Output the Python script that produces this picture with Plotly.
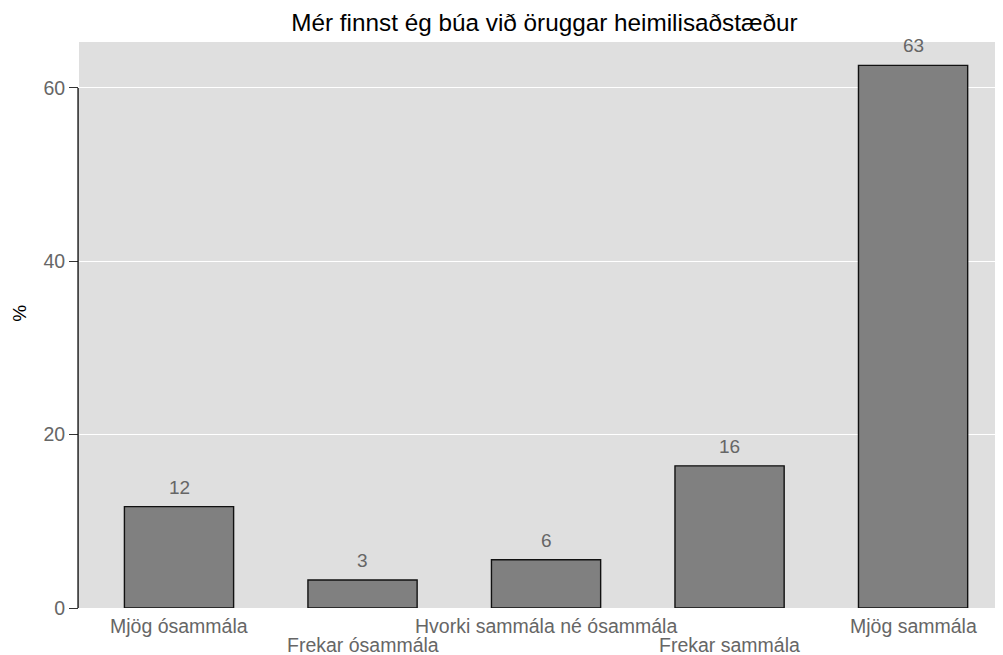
import plotly.graph_objects as go

categories = ["Mjög ósammála", "Frekar ósammála", "Hvorki sammála né ósammála",
              "Frekar sammála", "Mjög sammála"]
values = [11.7, 3.23, 5.57, 16.4, 62.6]
labels = [str(round(v)) for v in values]
title = "Mér finnst ég búa við öruggar heimilisaðstæður"
y_ticks = [0, 20, 40, 60]

FONT = "Liberation Sans, Arial, sans-serif"
TICKCOL = "#666666"

W, H = 995, 647
L, R, T, B = 71, 0, 34, 47

fig = go.Figure()
fig.add_trace(go.Bar(
    x=categories, y=values, width=0.595,
    marker=dict(color="#808080", line=dict(color="#111111", width=1.4)),
    hoverinfo="skip",
))

annotations = []
for c, v, t in zip(categories, values, labels):
    annotations.append(dict(x=c, y=v, xref="x", yref="y", text=t, showarrow=False,
                            yanchor="bottom", yshift=7,
                            font=dict(family=FONT, size=19, color=TICKCOL)))
for i, c in enumerate(categories):
    annotations.append(dict(x=c, y=0, xref="x", yref="paper", text=c, showarrow=False,
                            yanchor="top", yshift=-5 if i % 2 == 0 else -24,
                            font=dict(family=FONT, size=19.5, color=TICKCOL)))
annotations.append(dict(x=(12 - L) / (W - L - R), y=0.52, xref="paper", yref="paper", text="%",
                        showarrow=False, textangle=-90, xanchor="center", yanchor="middle",
                        font=dict(family=FONT, size=19, color="#000000")))

fig.update_layout(
    width=W, height=H,
    margin=dict(l=L, r=R, t=T, b=B),
    paper_bgcolor="white", plot_bgcolor="#DFDFDF",
    showlegend=False,
    title=dict(text=title, x=(L + W + 7) / 2 / W, xanchor="center", y=1 - 14 / H, yanchor="middle",
               font=dict(family=FONT, size=24.3, color="#000000")),
    annotations=annotations,
    xaxis=dict(type="category", range=[-0.545, 4.49], showticklabels=False, ticks="",
               showgrid=False, zeroline=False, showline=False),
    yaxis=dict(range=[0, 65.3], tickvals=y_ticks, ticks="outside", ticklen=9,
               tickcolor="#333333", tickwidth=1.3,
               tickfont=dict(family=FONT, size=19.5, color=TICKCOL),
               showgrid=True, gridcolor="white", gridwidth=1.3,
               zeroline=False, showline=False),
    shapes=[dict(type="line", xref="paper", yref="y", x0=-0.001, x1=-0.001, y0=0, y1=60,
                 line=dict(color="#111111", width=1.4))],
)

fig.write_html("out.html")
